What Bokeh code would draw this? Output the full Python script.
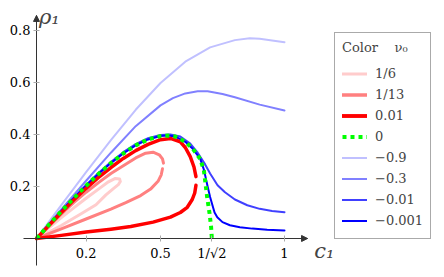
from bokeh.plotting import figure
from bokeh.models import (Range1d, FixedTicker, Legend, LegendItem, Label,
                          Arrow, NormalHead)
from bokeh.embed import file_html
from bokeh.resources import INLINE

# ---------------- data ----------------
# nu0 = 1/6 (closed loop)
x_16 = [0, 0.05, 0.1, 0.15, 0.2, 0.25, 0.29, 0.318, 0.335, 0.338, 0.33, 0.31,
        0.28, 0.24, 0.18, 0.1, 0.05, 0]
y_16 = [0, 0.041, 0.08, 0.118, 0.155, 0.19, 0.218, 0.231, 0.229, 0.219, 0.207,
        0.192, 0.168, 0.13, 0.095, 0.05, 0.025, 0]

# nu0 = 1/13 (two branches)
x_113_up = [0, 0.05, 0.1, 0.15, 0.2, 0.25, 0.3, 0.35, 0.4, 0.44, 0.47, 0.495,
            0.508, 0.512]
y_113_up = [0, 0.048, 0.094, 0.138, 0.178, 0.215, 0.25, 0.28, 0.31, 0.328,
            0.332, 0.322, 0.306, 0.29]
x_113_lo = [0, 0.1, 0.2, 0.3, 0.36, 0.42, 0.46, 0.49, 0.503, 0.508]
y_113_lo = [0, 0.037, 0.075, 0.113, 0.138, 0.165, 0.19, 0.22, 0.245, 0.268]

# nu0 = 0.01 (two branches)
x_001_up = [0, 0.05, 0.1, 0.15, 0.2, 0.25, 0.3, 0.35, 0.4, 0.45, 0.5, 0.54,
            0.58, 0.6, 0.62, 0.635, 0.643]
y_001_up = [0, 0.05, 0.1, 0.148, 0.193, 0.235, 0.273, 0.308, 0.338, 0.362,
            0.38, 0.385, 0.372, 0.35, 0.315, 0.275, 0.238]
x_001_lo = [0, 0.1, 0.2, 0.3, 0.38, 0.47, 0.54, 0.58, 0.608, 0.628, 0.638, 0.643]
y_001_lo = [0, 0.012, 0.025, 0.036, 0.046, 0.063, 0.082, 0.1, 0.12, 0.15,
            0.175, 0.205]

# nu0 = 0
x_0 = [0, 0.05, 0.1, 0.15, 0.2, 0.25, 0.3, 0.35, 0.4, 0.45, 0.5, 0.53, 0.56,
       0.6, 0.63, 0.66, 0.675, 0.688, 0.698, 0.704, 0.7071]
y_0 = [0, 0.053, 0.105, 0.155, 0.203, 0.248, 0.29, 0.327, 0.358, 0.381, 0.394,
       0.396, 0.392, 0.372, 0.345, 0.306, 0.262, 0.16, 0.095, 0.045, 0]

# nu0 = -0.9
x_m09 = [0, 0.1, 0.2, 0.3, 0.4, 0.5, 0.6, 0.7, 0.8, 0.86, 0.9, 1.0]
y_m09 = [0, 0.128, 0.255, 0.378, 0.495, 0.598, 0.68, 0.735, 0.763, 0.77,
         0.768, 0.755]

# nu0 = -0.3
x_m03 = [0, 0.1, 0.2, 0.3, 0.4, 0.5, 0.55, 0.6, 0.65, 0.69, 0.75, 0.8, 0.9, 1.0]
y_m03 = [0, 0.112, 0.222, 0.33, 0.432, 0.512, 0.54, 0.558, 0.566, 0.566,
         0.556, 0.543, 0.515, 0.492]

# nu0 = -0.01
x_m001 = [0, 0.05, 0.1, 0.15, 0.2, 0.25, 0.3, 0.35, 0.4, 0.45, 0.5, 0.54, 0.58,
          0.62, 0.65, 0.68, 0.7, 0.73, 0.76, 0.8, 0.85, 0.9, 0.95, 1.0]
y_m001 = [0, 0.054, 0.107, 0.157, 0.206, 0.252, 0.294, 0.332, 0.363, 0.386,
          0.398, 0.4, 0.392, 0.365, 0.33, 0.285, 0.25, 0.205, 0.178, 0.15,
          0.128, 0.114, 0.106, 0.101]

# nu0 = -0.001
x_m0001 = [0, 0.05, 0.1, 0.15, 0.2, 0.25, 0.3, 0.35, 0.4, 0.45, 0.5, 0.53,
           0.56, 0.6, 0.63, 0.66, 0.675, 0.69, 0.7, 0.708, 0.718, 0.729, 0.75,
           0.78, 0.82, 0.87, 0.93, 1.0]
y_m0001 = [0, 0.053, 0.105, 0.155, 0.203, 0.248, 0.29, 0.327, 0.358, 0.381,
           0.394, 0.396, 0.392, 0.372, 0.345, 0.307, 0.265, 0.2, 0.16, 0.133,
           0.1, 0.082, 0.063, 0.051, 0.043, 0.038, 0.034, 0.031]

legend_labels = ["1/6", "1/13", "0.01", "0", "\u22120.9", "\u22120.3",
                 "\u22120.01", "\u22120.001"]
x_ticks = [0.2, 0.5, 0.7071, 1.0]
x_tick_labels = ["0.2", "0.5", "1/\u221a2", "1"]
y_ticks = [0.2, 0.4, 0.6, 0.8]
y_tick_labels = ["0.2", "0.4", "0.6", "0.8"]

# ---------------- layout ----------------
FONT = "DejaVu Serif"
X_AXIS_BOUNDS = (-0.052, 1.093)
Y_AXIS_BOUNDS = (-0.104, 0.858)

p = figure(width=444, height=277, output_backend="svg", toolbar_location=None,
           x_range=Range1d(-0.14516, 1.64516), y_range=Range1d(-0.15, 0.91538),
           min_border_left=0, min_border_right=0, min_border_top=0,
           min_border_bottom=0)
p.outline_line_color = None
p.grid.visible = False
p.background_fill_color = "white"
p.border_fill_color = "white"

for ax in (p.xaxis[0], p.yaxis[0]):
    ax.fixed_location = 0
    ax.axis_line_color = "#333333"
    ax.axis_line_width = 1
    ax.major_tick_in = 3
    ax.major_tick_out = 3
    ax.major_tick_line_color = "#aaaaaa"
    ax.minor_tick_line_color = None
    ax.major_label_text_font = FONT
    ax.major_label_text_font_size = "13px"
    ax.major_label_text_color = "black"

p.xaxis.bounds = X_AXIS_BOUNDS
p.yaxis.bounds = Y_AXIS_BOUNDS
p.xaxis.ticker = FixedTicker(ticks=x_ticks)
p.yaxis.ticker = FixedTicker(ticks=y_ticks)
p.xaxis.major_label_overrides = dict(zip(x_ticks, x_tick_labels))
p.yaxis.major_label_overrides = dict(zip(y_ticks, y_tick_labels))
p.xaxis.major_label_standoff = 5
p.yaxis.major_label_standoff = 3

# arrow heads at the axis ends
p.add_layout(Arrow(end=NormalHead(size=6, fill_color="#333333",
                                  line_color="#333333", line_width=1),
                   x_start=X_AXIS_BOUNDS[1] - 0.03, y_start=0,
                   x_end=X_AXIS_BOUNDS[1], y_end=0,
                   line_color="#333333", line_width=1))
p.add_layout(Arrow(end=NormalHead(size=6, fill_color="#333333",
                                  line_color="#333333", line_width=1),
                   x_start=0, y_start=Y_AXIS_BOUNDS[1] - 0.03,
                   x_end=0, y_end=Y_AXIS_BOUNDS[1],
                   line_color="#333333", line_width=1))

# axis labels
p.add_layout(Label(x=0.01, y=0.85, text="\u03c1\u2081", text_font=FONT,
                   text_font_style="italic", text_font_size="21px",
                   text_baseline="middle", text_align="left"))
p.add_layout(Label(x=1.12, y=-0.05, text="c\u2081", text_font=FONT,
                   text_font_style="italic", text_font_size="21px",
                   text_baseline="middle", text_align="left"))

kw = dict(line_join="round", line_cap="round")
r_m09 = p.line(x_m09, y_m09, line_color="#c0c0ff", line_width=2, **kw)
r_m03 = p.line(x_m03, y_m03, line_color="#8080ff", line_width=2, **kw)
r_m001 = p.line(x_m001, y_m001, line_color="#4040ff", line_width=2, **kw)
r_m0001 = p.line(x_m0001, y_m0001, line_color="#0000ff", line_width=2, **kw)
r_16 = p.line(x_16, y_16, line_color="#ffcccc", line_width=3, **kw)
r_113a = p.line(x_113_up, y_113_up, line_color="#ff8080", line_width=3, **kw)
r_113b = p.line(x_113_lo, y_113_lo, line_color="#ff8080", line_width=3, **kw)
r_001a = p.line(x_001_up, y_001_up, line_color="#ff0000", line_width=3.5, **kw)
r_001b = p.line(x_001_lo, y_001_lo, line_color="#ff0000", line_width=3.5, **kw)
r_0 = p.line(x_0, y_0, line_color="#00ff00", line_width=4, line_dash="4 4",
             line_cap="butt")

renderers = [[r_16], [r_113a, r_113b], [r_001a, r_001b], [r_0], [r_m09],
             [r_m03], [r_m001], [r_m0001]]
items = [LegendItem(label=lab, renderers=rs)
         for lab, rs in zip(legend_labels, renderers)]

legend = Legend(items=items, location=(334, 38),
                title="Color\u00a0\u00a0\u00a0\u00a0\u03bd\u2080",
                title_text_font=FONT, title_text_font_size="13px",
                title_text_font_style="normal", title_standoff=8,
                label_text_font=FONT, label_text_font_size="13px",
                label_height=21, glyph_height=21, glyph_width=25,
                spacing=0, padding=7, label_standoff=8, label_width=44,
                border_line_color="#555555", border_line_width=1,
                background_fill_color="white", background_fill_alpha=1,
                margin=0)
p.add_layout(legend)

open("out.html", "w").write(file_html(p, INLINE))
